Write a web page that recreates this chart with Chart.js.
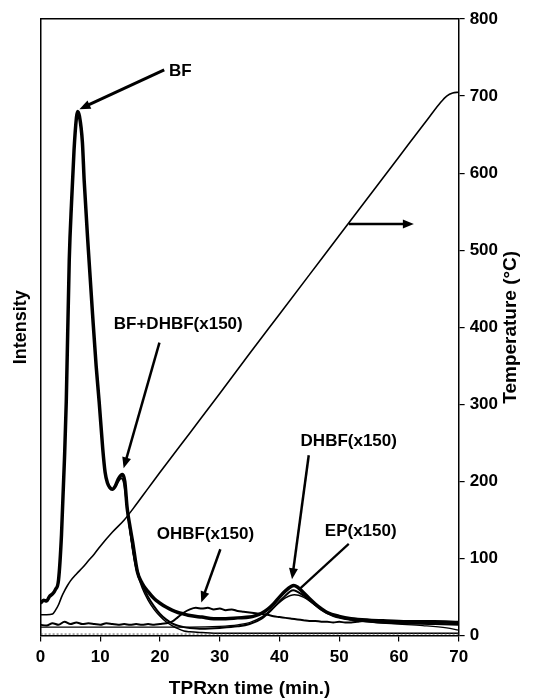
<!DOCTYPE html>
<html>
<head>
<meta charset="utf-8">
<script src="https://cdn.jsdelivr.net/npm/chart.js@4.4.1/dist/chart.umd.min.js"></script>
<style>
  html, body { margin: 0; padding: 0; background: #fff; }
</style>
</head>
<body>
<canvas id="tprChart" width="540" height="698"></canvas>
<script>
const FONT = '"Liberation Sans", Arial, sans-serif';

const timeTicks = [0, 10, 20, 30, 40, 50, 60, 70];
const tempTicks = [0, 100, 200, 300, 400, 500, 600, 700, 800];

// BF trace (thick), intensity in arbitrary units on the 0-800 frame
const bfTime = [0, 0.5, 1, 1.5, 2, 2.5, 3, 3.5, 4, 4.3, 4.8, 5.2, 5.6, 6, 6.2, 6.5, 7, 7.3, 8, 8.7,
  9.3, 9.8, 10.4, 10.8, 11.2, 11.6, 12, 12.5, 13, 13.7, 14.1, 14.5, 15, 15.4, 16.2, 17, 18, 19, 20, 21,
  22, 23, 24, 25, 27, 29, 31, 33, 35, 36, 37, 38, 39, 40, 41, 42, 42.4, 43, 44, 45,
  46, 47, 48, 50, 52, 55, 58, 62, 66, 70];
const bfSignal = [42, 46, 45, 51, 54, 60, 72, 131, 230, 304, 488, 565, 630, 672, 680, 674, 640, 590, 500, 417,
  350, 304, 243, 212, 198, 192, 190, 194, 203, 209, 200, 165, 140, 122, 83, 68, 57, 48, 42, 37,
  33, 30, 28, 26, 24, 22, 22, 23, 24, 26, 29, 34, 41, 50, 58, 64, 65, 63, 56, 48,
  41, 35, 30, 25, 22, 20, 19, 18, 18, 17];

// DHBF x150
const dhbfTime = [11.2, 11.6, 12, 12.5, 13, 13.5, 14, 14.5, 15, 15.5, 16, 17, 18, 19, 20, 21, 22, 23, 24, 25,
  27, 30, 33, 35, 37, 39, 40.5, 42.3, 44, 46, 48, 50, 54, 60, 66, 70];
const dhbfSignal = [198, 192, 190, 193, 200, 204, 196, 166, 136, 110, 90, 66, 50, 38, 28, 21, 16, 13, 11, 10,
  9, 10, 12, 15, 22, 36, 48, 59, 52, 40, 30, 24, 19, 16, 15, 14];

// BF decay trace that drops to the floor
const decayTime = [14.1, 14.5, 15, 15.5, 16, 17, 18, 19, 20, 21, 22, 23, 24, 25, 27, 30, 40, 50, 60, 70];
const decaySignal = [200, 165, 134, 106, 86, 62, 46, 34, 25, 18, 13, 9, 6, 5, 4, 3, 3, 3, 3, 3];

// OHBF x150 (noisy)
const ohbfTime = [0, 1, 2, 3, 4, 5, 6, 7, 8, 9, 10, 11, 12, 13, 14, 15, 16, 17, 18, 19, 20, 21, 22, 23, 24,
  25, 26, 27, 28, 29, 30, 31, 32, 33, 34, 35, 36, 37, 38, 39, 40, 41, 42, 43, 44, 45, 46, 47, 48, 49,
  50, 51, 52, 53, 54, 55, 56, 57, 58, 59, 60, 61, 62, 63, 64, 65, 66, 67, 68, 69, 70];
const ohbfSignal = [14, 13, 16, 14, 18, 15, 17, 15, 16, 15, 14, 16, 15, 14, 15, 14, 15, 14, 15, 14, 15, 16, 18, 24, 30,
  34, 36, 35, 36, 34, 35, 33, 34, 32, 31, 30, 29, 28, 27, 25, 24, 23, 22, 21, 20, 19, 19, 18, 18, 17,
  18, 17, 17, 18, 19, 19, 18, 19, 18, 18, 17, 18, 17, 17, 18, 17, 17, 16, 17, 16, 16];

// EP x150
const epTime = [0, 10, 20, 25, 30, 33, 35, 37, 38.5, 40, 41, 42.5, 44, 45.5, 47, 49, 52, 56, 60, 64, 68, 70];
const epSignal = [11, 11, 11, 11, 12, 14, 17, 24, 33, 43, 49, 53, 50, 42, 33, 25, 20, 17, 15, 13, 10, 7];

// Temperature ramp (°C)
const tempTime = [0, 1, 2, 2.5, 3, 3.5, 4, 4.5, 5, 6, 7, 8, 9, 10, 12, 14, 16, 18, 20, 25,
  30, 35, 40, 45, 50, 55, 60, 65, 67, 68, 69, 70];
const tempValue = [27, 27, 28, 33, 40, 50, 58, 65, 71, 80, 88, 97, 106, 116, 134, 150, 170, 191, 212, 263,
  314, 366, 417, 468, 519, 570, 621, 672, 692, 700, 704, 705];

// detector floor
const floorTime = [0, 70];
const floorValue = [2, 2];

const pairs = (xs, ys) => xs.map((x, i) => ({ x: x, y: ys[i] }));

const line = (label, xs, ys, width, axis) => ({
  label: label,
  data: pairs(xs, ys),
  borderColor: '#000',
  borderWidth: width,
  yAxisID: axis || 'y',
  pointRadius: 0,
  cubicInterpolationMode: 'monotone',
  fill: false
});

// labels and arrows, placed in axis units
const notes = [
  { text: 'BF', at: [23.4, 732], from: [20.7, 734], to: [6.5, 683], head: true, width: 3 },
  { text: 'BF+DHBF(x150)', at: [23.05, 404], from: [19.9, 380], to: [13.9, 217], head: true, width: 2.5 },
  { text: 'OHBF(x150)', at: [27.6, 132], from: [30.1, 112], to: [26.9, 43], head: true, width: 2.5 },
  { text: 'DHBF(x150)', at: [51.6, 252], from: [44.9, 234], to: [42.1, 73], head: true, width: 2.5 },
  { text: 'EP(x150)', at: [53.6, 135], from: [51.6, 119], to: [43.3, 60], head: false, width: 2.2 },
  { text: '', at: null, from: [51.6, 534], to: [62.5, 534], head: true, width: 2.5 }
];

const notesPlugin = {
  id: 'notes',
  afterDatasetsDraw(chart) {
    const { ctx, scales: { x, yT } } = chart;
    const px = v => x.getPixelForValue(v);
    const py = v => yT.getPixelForValue(v);
    ctx.save();
    ctx.fillStyle = '#000';
    ctx.strokeStyle = '#000';
    ctx.lineCap = 'butt';
    ctx.font = 'bold 17px ' + FONT;
    ctx.textAlign = 'center';
    ctx.textBaseline = 'middle';
    notes.forEach(n => {
      if (n.text) ctx.fillText(n.text, px(n.at[0]), py(n.at[1]));
      const x1 = px(n.from[0]), y1 = py(n.from[1]);
      const x2 = px(n.to[0]), y2 = py(n.to[1]);
      const ang = Math.atan2(y2 - y1, x2 - x1);
      const len = n.head ? 11 : 0;
      ctx.lineWidth = n.width;
      ctx.beginPath();
      ctx.moveTo(x1, y1);
      ctx.lineTo(x2 - Math.cos(ang) * len * 0.8, y2 - Math.sin(ang) * len * 0.8);
      ctx.stroke();
      if (n.head) {
        ctx.beginPath();
        ctx.moveTo(x2, y2);
        ctx.lineTo(x2 - Math.cos(ang) * len + Math.sin(ang) * 4.5, y2 - Math.sin(ang) * len - Math.cos(ang) * 4.5);
        ctx.lineTo(x2 - Math.cos(ang) * len - Math.sin(ang) * 4.5, y2 - Math.sin(ang) * len + Math.cos(ang) * 4.5);
        ctx.closePath();
        ctx.fill();
      }
    });

    // right-hand axis title, reading bottom to top
    const area = chart.chartArea;
    ctx.translate(511, (area.top + area.bottom) / 2);
    ctx.rotate(-Math.PI / 2);
    ctx.font = 'bold 19px ' + FONT;
    ctx.fillText('Temperature (°C)', 0, 0);
    ctx.restore();
  }
};

const tickFont = { family: FONT, size: 17, weight: 'bold' };

new Chart(document.getElementById('tprChart'), {
  type: 'line',
  data: {
    datasets: [
      Object.assign(line('Floor', floorTime, floorValue, 1), { borderDash: [2, 2], borderColor: '#555' }),
      line('EP(x150)', epTime, epSignal, 1.3),
      line('OHBF(x150)', ohbfTime, ohbfSignal, 2),
      line('BF decay', decayTime, decaySignal, 1.5),
      line('DHBF(x150)', dhbfTime, dhbfSignal, 2),
      line('BF', bfTime, bfSignal, 3.5),
      line('Temperature', tempTime, tempValue, 1.6, 'yT')
    ]
  },
  options: {
    responsive: false,
    animation: false,
    layout: { padding: { top: 19, left: 4, right: 37, bottom: 0 } },
    plugins: {
      legend: { display: false },
      tooltip: { enabled: false }
    },
    scales: {
      x: {
        type: 'linear',
        position: 'bottom',
        min: 0,
        max: 70,
        afterBuildTicks: s => { s.ticks = timeTicks.map(v => ({ value: v })); },
        ticks: { color: '#000', font: tickFont, padding: 6, maxRotation: 0 },
        grid: { drawOnChartArea: false, color: '#000', tickLength: 6, lineWidth: 1.2 },
        border: { color: '#000', width: 1.5 },
        title: {
          display: true,
          text: 'TPRxn time (min.)',
          color: '#000',
          font: { family: FONT, size: 19, weight: 'bold', lineHeight: 1 },
          padding: { top: 5, bottom: 0 }
        }
      },
      xTop: {
        type: 'linear',
        position: 'top',
        min: 0,
        max: 70,
        ticks: { display: false },
        grid: { display: false, drawTicks: false },
        border: { color: '#000', width: 1.5 }
      },
      y: {
        position: 'left',
        min: 0,
        max: 800,
        ticks: { display: false },
        grid: { display: false, drawTicks: false },
        border: { color: '#000', width: 1.5 },
        title: {
          display: true,
          text: 'Intensity',
          color: '#000',
          font: { family: FONT, size: 18, weight: 'bold', lineHeight: 1.2 },
          padding: { top: 6, bottom: 9 }
        }
      },
      yT: {
        position: 'right',
        min: 0,
        max: 800,
        afterBuildTicks: s => { s.ticks = tempTicks.map(v => ({ value: v })); },
        ticks: { color: '#000', font: tickFont, padding: 5 },
        grid: { drawOnChartArea: false, color: '#000', tickLength: 6, lineWidth: 1.2 },
        border: { color: '#000', width: 1.5 }
      }
    }
  },
  plugins: [notesPlugin]
});
</script>
</body>
</html>
